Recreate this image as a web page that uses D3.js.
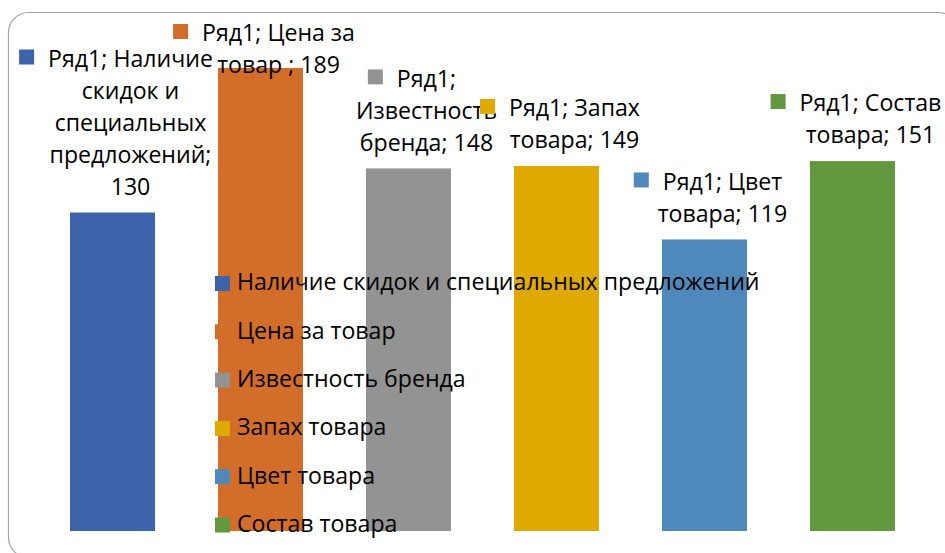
<!DOCTYPE html>
<meta charset="utf-8">
<style>
body { margin: 0; background: #fff; }
text { font-family: "Open Sans", sans-serif; fill: #000; }
</style>
<svg width="945" height="553"></svg>
<script src="https://d3js.org/d3.v7.min.js"></script>
<script>

var seriesName = "Ряд1";
var categories = ["Наличие скидок и специальных предложений", "Цена за товар ", "Известность бренда", "Запах товара", "Цвет товара", "Состав товара"];
var values = [130, 189, 148, 149, 119, 151];
var colors = ["#3d63aa", "#d36d2a", "#939393", "#e0a900", "#4f89bb", "#62993e"];
// how many words go on each line of the data labels
var labelWrap = [[2, 2, 1, 1, 1], [3, 3], [1, 1, 2], [2, 2], [2, 2], [2, 2]];

var svg = d3.select("svg"),
    width = +svg.attr("width"),
    height = +svg.attr("height");

// chart frame
svg.append("rect")
    .attr("x", 8.5).attr("y", 12.5)
    .attr("width", 950).attr("height", 545)
    .attr("rx", 20)
    .attr("fill", "#fff")
    .attr("stroke", "#a3a3a3")
    .attr("stroke-width", 1.2);

// pick a font size so the long legend entry matches the picture
var probe = svg.append("text").style("font-size", "20px").text(categories[0]);
var fs = 20 * 523 / probe.node().getComputedTextLength();
probe.remove();

var x = d3.scaleBand()
    .domain(categories)
    .range([38.5, 926.5])
    .paddingInner(0.4257)
    .paddingOuter(0.4257 / 2);

var y = d3.scaleLinear()
    .domain([0, 200])
    .range([531, 41]);

svg.append("g")
  .selectAll("rect")
  .data(categories)
  .enter().append("rect")
    .attr("x", function(d) { return x(d); })
    .attr("y", function(d, i) { return y(values[i]); })
    .attr("width", x.bandwidth())
    .attr("height", function(d, i) { return y(0) - y(values[i]); })
    .attr("fill", function(d, i) { return colors[i]; });

// legend
var legend = svg.append("g")
  .selectAll("g")
  .data(categories)
  .enter().append("g")
    .attr("transform", function(d, i) { return "translate(215," + (282 + i * 48.3) + ")"; });

legend.append("rect")
    .attr("y", -6)
    .attr("width", 15).attr("height", 15)
    .attr("fill", function(d, i) { return colors[i]; });

legend.append("text")
    .attr("x", 22)
    .attr("dy", "0.36em")
    .style("font-size", fs + "px")
    .text(function(d) { return d.trim(); });

// data labels
var lineH = 32;
categories.forEach(function(c, i) {
  var words = (seriesName + "; " + c + "; " + values[i]).split(/\s+/);
  var lines = [], k = 0;
  labelWrap[i].forEach(function(n) {
    lines.push(words.slice(k, k + n).join(" "));
    k += n;
  });
  var cx = x(c) + x.bandwidth() / 2 + 18;
  var lastY = y(values[i]) - 26;
  var firstY = lastY - (lines.length - 1) * lineH;
  if (firstY < 33) { firstY = 33; }

  var g = svg.append("g");
  var texts = g.selectAll("text")
    .data(lines)
    .enter().append("text")
      .attr("x", cx)
      .attr("y", function(d, j) { return firstY + j * lineH; })
      .attr("dy", "0.36em")
      .attr("text-anchor", "middle")
      .style("font-size", fs + "px")
      .text(function(d) { return d; });

  var w0 = texts.node().getComputedTextLength();
  g.append("rect")
      .attr("x", cx - w0 / 2 - 14 - 15)
      .attr("y", firstY - 1.5 - 7.5)
      .attr("width", 15).attr("height", 15)
      .attr("fill", colors[i]);
});

</script>
